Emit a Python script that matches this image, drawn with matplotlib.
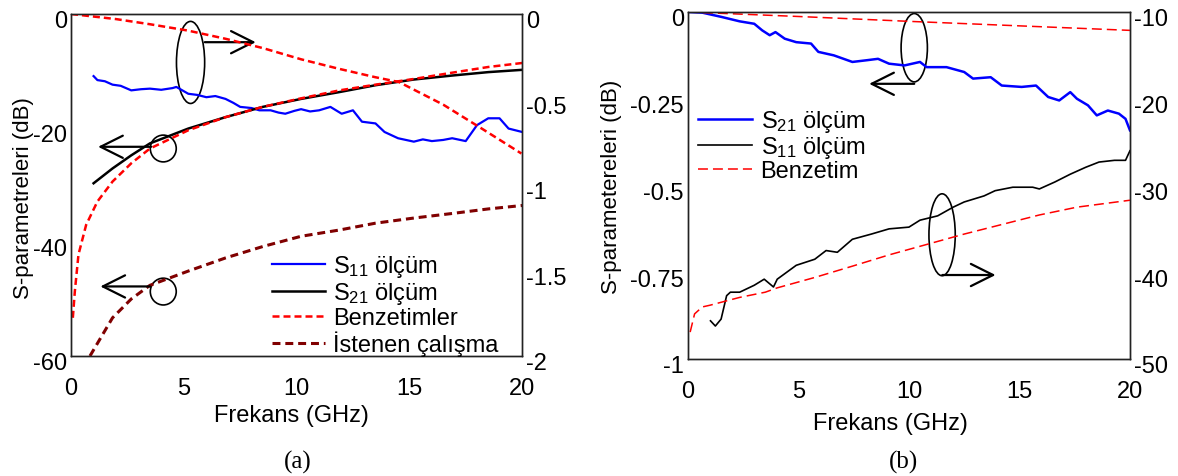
import matplotlib
matplotlib.use("Agg")
import matplotlib.pyplot as plt
import matplotlib.transforms as mtransforms
from matplotlib.patches import Ellipse
import numpy as np

plt.rcParams['font.family'] = ['Liberation Sans', 'DejaVu Sans']
plt.rcParams['font.size'] = 17
plt.rcParams['mathtext.default'] = 'regular'
plt.rcParams['axes.unicode_minus'] = False

# ---- panel (a) data ----
# blue measured curve, left axis (dB)
f_blue_a = [1.0, 1.17, 1.5, 1.84, 2.2, 2.67, 3.1, 3.5, 4.0, 4.5, 4.67, 5.2, 5.6, 6.0, 6.4,
            6.85, 7.2, 7.5, 8.0, 8.35, 8.85, 9.2, 9.5, 9.9, 10.2, 10.6, 11.0, 11.5, 12.0,
            12.5, 12.9, 13.5, 13.9, 14.5, 15.2, 15.6, 16.0, 16.5, 16.9, 17.5, 18.0, 18.5,
            19.0, 19.4, 20.0]
s_blue_a = [-10.9, -11.6, -11.8, -12.4, -12.6, -13.4, -13.2, -13.1, -13.3, -13.0, -12.8,
            -14.0, -14.2, -14.6, -14.4, -14.9, -15.6, -16.3, -16.5, -16.9, -16.9, -17.3,
            -17.5, -17.0, -16.7, -17.1, -16.9, -16.3, -17.5, -16.9, -18.9, -19.2, -20.7,
            -21.8, -22.4, -22.0, -22.3, -22.1, -21.8, -22.3, -19.5, -18.3, -18.3, -20.1,
            -20.7]
# black measured curve, left axis (dB)
f_black_a = [1.0, 1.84, 2.67, 3.5, 5.2, 6.85, 8.5, 10.2, 11.9, 13.5, 15.2, 16.9, 18.5, 20.0]
s_black_a = [-29.7, -27.1, -24.8, -22.7, -20.1, -18.1, -16.3, -14.9, -13.7, -12.5, -11.5,
             -10.8, -10.2, -9.8]
# simulated, rising, left axis (dB)
f_sim_a = [0.08, 0.17, 0.33, 0.67, 1.17, 1.84, 2.67, 3.5, 5.2, 6.85, 8.5, 10.2, 11.9, 13.5,
           15.2, 16.9, 18.5, 20.0]
s_sim_a = [-53.3, -48.6, -42.2, -37.0, -32.9, -29.4, -26.2, -23.6, -20.4, -18.1, -16.3,
           -14.8, -13.4, -12.4, -11.4, -10.3, -9.3, -8.6]
# simulated, falling, right axis (dB)
f_sim2_a = [0.0, 2.0, 3.5, 5.18, 6.85, 8.52, 10.2, 11.86, 13.5, 14.54, 16.5, 18.21, 19.97]
s_sim2_a = [0.0, -0.03, -0.06, -0.097, -0.145, -0.2, -0.265, -0.32, -0.37, -0.398, -0.53,
            -0.67, -0.816]
# desired performance, left axis (dB)
f_des_a = [0.84, 1.84, 2.67, 3.5, 5.2, 6.85, 8.5, 10.2, 11.9, 13.5, 15.2, 16.9, 18.5, 20.0]
s_des_a = [-60.0, -53.3, -50.0, -47.6, -45.1, -42.8, -40.8, -39.0, -37.9, -36.7, -35.8,
           -35.0, -34.2, -33.6]

# ---- panel (b) data ----
f_blue_b = [0.0, 0.65, 1.5, 2.34, 3.0, 3.36, 3.7, 3.96, 4.38, 4.9, 5.57, 5.9, 6.6, 7.44, 8.1,
            8.6, 9.1, 9.8, 10.5, 10.8, 11.7, 12.5, 12.9, 13.7, 14.2, 15.1, 15.75, 16.3,
            16.8, 17.3, 17.6, 18.1, 18.5, 19.0, 19.5, 19.8, 20.0]
s_blue_b = [0.0, -0.002, -0.014, -0.027, -0.034, -0.053, -0.067, -0.058, -0.077, -0.087,
            -0.091, -0.115, -0.125, -0.144, -0.139, -0.135, -0.149, -0.154, -0.144, -0.159,
            -0.159, -0.173, -0.192, -0.188, -0.212, -0.216, -0.212, -0.245, -0.255, -0.231,
            -0.25, -0.269, -0.298, -0.284, -0.293, -0.308, -0.341]
f_simtop_b = [0, 5, 10, 15, 20]
s_simtop_b = [0.0, -0.013, -0.027, -0.040, -0.053]
# black measured, right axis (dB)
f_black_b = [1.02, 1.24, 1.5, 1.75, 1.92, 2.34, 3.0, 3.45, 3.87, 4.04, 4.9, 5.74, 6.25, 6.76,
             7.44, 8.3, 9.1, 10.0, 10.5, 11.3, 12.0, 12.5, 13.4, 13.9, 14.7, 15.6, 15.9,
             16.6, 17.3, 18.0, 18.6, 19.3, 19.8, 20.0]
s_black_b = [-45.6, -46.2, -45.4, -42.7, -42.3, -42.3, -41.5, -40.8, -41.7, -40.8, -39.2,
             -38.5, -37.5, -37.7, -36.2, -35.6, -35.0, -34.8, -34.0, -33.5, -32.5, -31.9,
             -31.2, -30.6, -30.2, -30.2, -30.4, -29.6, -28.7, -27.9, -27.3, -27.1, -27.1,
             -26.0]
f_simbot_b = [0.1, 0.3, 0.65, 1.0, 2.34, 3.5, 4.04, 5.74, 7.44, 9.1, 10.8, 12.5, 14.2, 15.9,
              17.6, 20.0]
s_simbot_b = [-46.9, -44.8, -44.0, -43.8, -42.9, -42.3, -41.8, -40.6, -39.3, -38.0, -36.8,
              -35.6, -34.5, -33.4, -32.5, -31.7]

red = '#FF0000'
dred = '#800000'
blue = '#0000FF'

fig = plt.figure(figsize=(11.78, 4.77), dpi=100)
axa = fig.add_axes([0.0603, 0.2516, 0.3829, 0.717])
axb = fig.add_axes([0.584, 0.2453, 0.3752, 0.7275])
axa2 = axa.twinx()
axb2 = axb.twinx()

down = mtransforms.ScaledTranslation(0, -5 / 100, fig.dpi_scale_trans)


def style(ax, ax2, yt, yt2):
    for a in (ax, ax2):
        a.set_xlim(0, 20)
        a.set_xticks([0, 5, 10, 15, 20])
        a.tick_params(length=0, labelsize=17)
        for s in a.spines.values():
            s.set_linewidth(1.0)
            s.set_color('#222222')
    ax.tick_params(axis='x', pad=15)
    ax.tick_params(axis='y', pad=3)
    ax2.tick_params(axis='y', pad=3)
    ax.set_yticks(yt)
    ax.set_yticklabels(['%g' % v for v in yt])
    ax2.set_yticks(yt2)
    ax2.set_yticklabels(['%g' % v for v in yt2])
    for lab in ax.get_yticklabels() + ax2.get_yticklabels():
        lab.set_transform(lab.get_transform() + down)
    ax.set_xlabel('Frekans (GHz)', fontsize=17)


def arrow(ax, x0, y0, x1, y1):
    ax.annotate('', xy=(x1, y1), xytext=(x0, y0),
                arrowprops=dict(arrowstyle='->,head_length=0.8,head_width=0.4',
                                lw=1.6, color='black', shrinkA=0, shrinkB=0,
                                mutation_scale=20))


# ---- panel (a) ----
l1, = axa.plot(f_blue_a, s_blue_a, color=blue, lw=1.6, label=r'S$_{11}$ ölçüm')
l2, = axa.plot(f_black_a, s_black_a, color='black', lw=1.8, label=r'S$_{21}$ ölçüm')
l3, = axa.plot(f_sim_a, s_sim_a, color=red, lw=1.8, dashes=(2.8, 1.6), label='Benzetimler')
l4, = axa.plot(f_des_a, s_des_a, color=dred, lw=2.2, dashes=(2.6, 1.6),
               label='İstenen çalışma')
axa2.plot(f_sim2_a, s_sim2_a, color=red, lw=1.8, dashes=(2.8, 1.6))
axa.set_ylim(-60, 0)
axa2.set_ylim(-2, 0)
style(axa, axa2, [0, -20, -40, -60], [0, -0.5, -1, -1.5, -2])
axa.set_ylabel('S-parametreleri (dB)', fontsize=16)
axa.yaxis.set_label_coords(-0.082, 0.465)
axa.xaxis.set_label_coords(0.488, -0.14)

axa.add_patch(Ellipse((5.3, -8.5), 1.25, 14.4, fill=False, lw=1.2, color='black'))
arrow(axa, 5.93, -4.95, 8.19, -4.95)
axa.add_patch(Ellipse((4.09, -23.6), 1.15, 4.7, fill=False, lw=1.2, color='black'))
arrow(axa, 3.55, -23.3, 1.2, -23.3)
axa.add_patch(Ellipse((4.09, -48.7), 1.15, 4.7, fill=False, lw=1.2, color='black'))
arrow(axa, 3.5, -47.8, 1.3, -47.8)

lega = axa2.legend(handles=[l1, l2, l3, l4], loc='center left',
                   bbox_to_anchor=(0.4457, 0.1506), frameon=False, fontsize=17,
                   borderpad=0, borderaxespad=0, labelspacing=0.05,
                   handlelength=2.25, handletextpad=0.35)

fig.text(298 / 1178, 1 - 462 / 477, '(a)', family=['Liberation Serif'], fontsize=18,
         ha='center', va='center')

# ---- panel (b) ----
m1, = axb.plot(f_blue_b, s_blue_b, color=blue, lw=1.8, label=r'S$_{21}$ ölçüm')
axb.plot(f_simtop_b, s_simtop_b, color=red, lw=1.1, dashes=(6.5, 3.3))
m2, = axb2.plot(f_black_b, s_black_b, color='black', lw=1.2, label=r'S$_{11}$ ölçüm')
m3, = axb2.plot(f_simbot_b, s_simbot_b, color=red, lw=1.1, dashes=(6.5, 3.3),
                label='Benzetim')
axb.set_ylim(-1, 0)
axb2.set_ylim(-50, -10)
style(axb, axb2, [0, -0.25, -0.5, -0.75, -1], [-10, -20, -30, -40, -50])
axb.set_ylabel('S-parametereleri (dB)', fontsize=16)
axb.yaxis.set_label_coords(-0.149, 0.5)
axb.xaxis.set_label_coords(0.459, -0.153)

axb.add_patch(Ellipse((10.24, -0.103), 1.19, 0.197, fill=False, lw=1.2, color='black'))
arrow(axb, 10.24, -0.207, 8.2, -0.207)
axb.add_patch(Ellipse((11.5, -0.642), 1.19, 0.236, fill=False, lw=1.2, color='black'))
arrow(axb, 11.51, -0.758, 13.92, -0.758)

legb = axb2.legend(handles=[m1, m2, m3], loc='center left',
                   bbox_to_anchor=(0.0226, 0.617), frameon=False, fontsize=17,
                   borderpad=0, borderaxespad=0, labelspacing=0.0,
                   handlelength=2.3, handletextpad=0.35)

fig.text(903 / 1178, 1 - 462 / 477, '(b)', family=['Liberation Serif'], fontsize=18,
         ha='center', va='center')

fig.savefig('out.png', dpi=100)
